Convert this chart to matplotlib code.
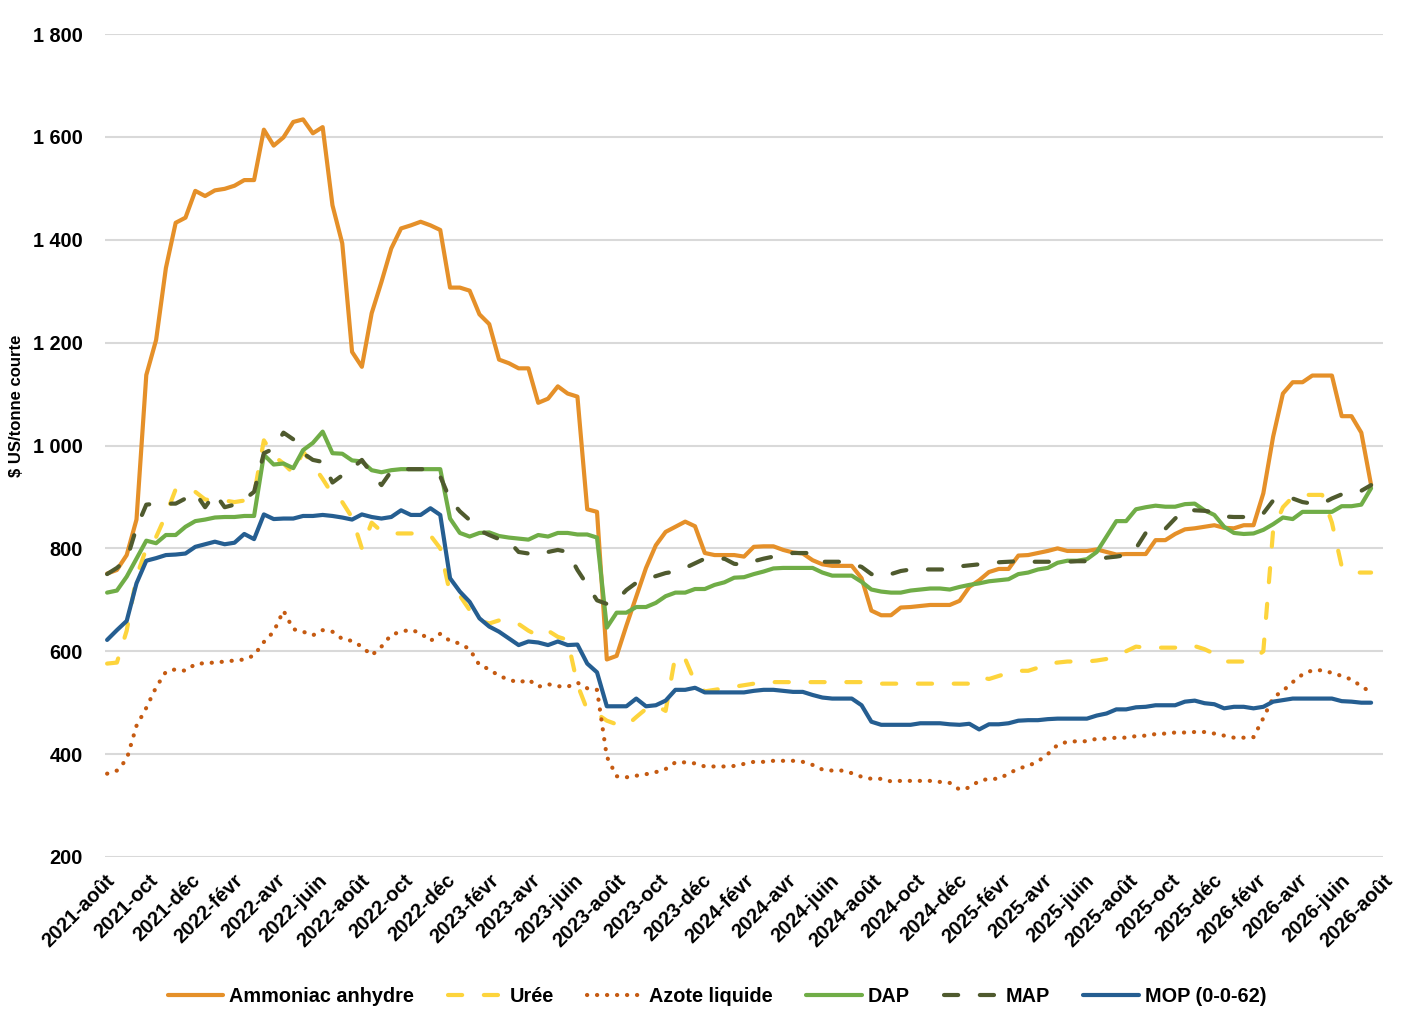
import matplotlib
matplotlib.use("Agg")
import matplotlib.pyplot as plt
import pandas as pd

# ---------------- data ----------------
dates = pd.date_range("2021-08-04", periods=130, freq="14D")

ammoniac = [751, 758, 787, 856, 1137, 1205, 1345, 1433, 1443, 1495, 1485, 1496, 1499, 1505, 1516, 1516,
            1614, 1583, 1599, 1629, 1634, 1607, 1619, 1467, 1393, 1182, 1153, 1257, 1318, 1383, 1422, 1428,
            1435, 1428, 1419, 1307, 1307, 1301, 1255, 1236, 1167, 1160, 1150, 1150, 1083, 1091, 1115, 1101,
            1095, 876, 871, 584, 591, 650, 706, 762, 806, 832, 842, 852, 843, 791, 787, 787,
            787, 784, 803, 804, 804, 797, 792, 790, 777, 769, 766, 766, 766, 742, 679, 670,
            670, 685, 686, 688, 690, 690, 690, 698, 725, 738, 754, 760, 760, 786, 787, 791,
            795, 800, 795, 795, 795, 798, 793, 788, 789, 789, 789, 816, 816, 828, 837, 839,
            842, 845, 840, 839, 845, 845, 907, 1017, 1101, 1123, 1123, 1136, 1136, 1136, 1057, 1057,
            1025, 923]

uree = [576, 578, 640, 745, 800, 822, 865, 915, 915, 910, 895, 893, 893, 890, 893, 905,
        1010, 980, 965, 946, 988, 963, 935, 905, 890, 860, 800, 850, 833, 829, 829, 829,
        829, 825, 800, 712, 708, 680, 660, 654, 660, 660, 653, 640, 630, 640, 628, 622,
        535, 486, 478, 465, 458, 455, 472, 488, 495, 484, 592, 585, 540, 522, 525, 528,
        531, 534, 537, 540, 540, 540, 540, 540, 540, 540, 540, 540, 540, 540, 537, 537,
        537, 537, 537, 537, 537, 537, 537, 537, 537, 550, 546, 552, 558, 562, 562, 568,
        576, 578, 580, 580, 580, 582, 585, 590, 600, 609, 607, 607, 607, 607, 612, 610,
        604, 595, 580, 580, 580, 585, 600, 835, 880, 900, 904, 904, 904, 850, 765, 753,
        753, 753]

azote = [362, 368, 390, 455, 490, 530, 560, 565, 562, 575, 577, 578, 580, 582, 584, 592,
         618, 638, 679, 643, 638, 631, 641, 638, 624, 620, 609, 592, 609, 632, 638, 642,
         635, 620, 634, 620, 615, 604, 573, 565, 552, 545, 539, 545, 531, 536, 532, 531,
         539, 528, 525, 395, 357, 355, 358, 361, 365, 371, 384, 384, 382, 376, 376, 376,
         377, 381, 385, 385, 387, 387, 387, 385, 379, 370, 368, 368, 363, 356, 352, 352,
         347, 348, 348, 348, 348, 346, 344, 331, 335, 348, 352, 352, 362, 372, 377, 386,
         400, 418, 424, 425, 425, 430, 430, 432, 432, 435, 436, 439, 440, 442, 442, 443,
         443, 440, 436, 432, 432, 433, 470, 510, 523, 540, 555, 563, 563, 558, 552, 545,
         532, 520]

dap = [714, 718, 745, 780, 815, 810, 826, 826, 842, 853, 856, 860, 861, 861, 863, 863,
       982, 963, 965, 956, 991, 1005, 1027, 985, 984, 971, 969, 952, 948, 952, 954, 954,
       954, 954, 954, 858, 830, 823, 830, 831, 824, 821, 819, 817, 826, 823, 830, 830,
       827, 827, 821, 646, 675, 675, 686, 686, 694, 707, 714, 714, 721, 721, 729, 734,
       743, 744, 750, 755, 761, 762, 762, 762, 762, 753, 747, 747, 747, 735, 720, 716,
       714, 714, 718, 720, 722, 722, 720, 725, 729, 732, 736, 738, 740, 750, 753, 759,
       762, 772, 776, 776, 779, 793, 823, 853, 853, 876, 880, 883, 881, 881, 886, 887,
       874, 865, 842, 830, 828, 829, 836, 847, 860, 857, 871, 871, 871, 871, 882, 882,
       885, 917]

map_ = [750, 762, 778, 840, 885, 887, 887, 887, 897, 908, 880, 907, 880, 885, 895, 910,
        985, 994, 1025, 1012, 985, 972, 968, 928, 942, 955, 972, 945, 923, 950, 954, 954,
        954, 954, 940, 895, 872, 855, 835, 826, 818, 814, 793, 790, 787, 793, 797, 793,
        758, 729, 699, 692, 699, 719, 733, 740, 746, 752, 755, 762, 771, 780, 778, 780,
        770, 768, 775, 780, 784, 787, 791, 791, 791, 774, 774, 774, 770, 764, 750, 745,
        750, 756, 759, 759, 759, 759, 759, 765, 767, 769, 770, 773, 774, 775, 774, 774,
        774, 774, 774, 775, 775, 777, 782, 784, 787, 800, 830, 838, 838, 858, 875, 874,
        873, 870, 862, 861, 861, 861, 868, 893, 895, 897, 890, 887, 887, 897, 905, 905,
        912, 923]

mop = [622, 641, 659, 732, 776, 781, 787, 788, 790, 803, 808, 813, 808, 811, 828, 818,
       866, 857, 858, 858, 863, 863, 865, 863, 860, 856, 866, 861, 858, 861, 874, 865,
       865, 878, 865, 742, 716, 696, 664, 648, 638, 625, 612, 619, 617, 612, 619, 612,
       613, 576, 559, 493, 493, 493, 508, 493, 495, 504, 525, 525, 529, 520, 520, 520,
       520, 520, 523, 525, 525, 523, 521, 521, 515, 510, 508, 508, 508, 495, 463, 457,
       457, 457, 457, 460, 460, 460, 458, 457, 459, 448, 458, 458, 460, 465, 466, 466,
       468, 469, 469, 469, 469, 475, 479, 487, 487, 491, 492, 495, 495, 495, 502, 504,
       499, 497, 489, 492, 492, 489, 492, 502, 505, 508, 508, 508, 508, 508, 503, 502,
       500, 500]

series_names = ["Ammoniac anhydre", "Urée", "Azote liquide", "DAP", "MAP", "MOP (0-0-62)"]

tick_dates = pd.date_range("2021-08-01", "2026-08-01", freq="2MS")
tick_labels = ["2021-août", "2021-oct", "2021-déc",
               "2022-févr", "2022-avr", "2022-juin", "2022-août", "2022-oct", "2022-déc",
               "2023-févr", "2023-avr", "2023-juin", "2023-août", "2023-oct", "2023-déc",
               "2024-févr", "2024-avr", "2024-juin", "2024-août", "2024-oct", "2024-déc",
               "2025-févr", "2025-avr", "2025-juin", "2025-août", "2025-oct", "2025-déc",
               "2026-févr", "2026-avr", "2026-juin", "2026-août"]

y_ticks = [200, 400, 600, 800, 1000, 1200, 1400, 1600, 1800]
y_tick_labels = ["200", "400", "600", "800", "1 000", "1 200", "1 400", "1 600", "1 800"]

# ---------------- style ----------------
plt.rcParams["font.family"] = ["Liberation Sans", "DejaVu Sans"]
plt.rcParams["font.weight"] = "bold"

fig = plt.figure(figsize=(14.21, 10.29), dpi=100)
ax = fig.add_axes([105 / 1421, 1 - 857 / 1029, (1383 - 105) / 1421, (857 - 34) / 1029])

lw = 3.0
styles = [
    dict(color="#E59029", linestyle="-"),
    dict(color="#FDD43C", linestyle=(0, (3.4, 5.2))),
    dict(color="#C55A11", linestyle=(0, (0.05, 2.35))),
    dict(color="#70AD47", linestyle="-"),
    dict(color="#4F5A2E", linestyle=(0, (3.4, 5.2))),
    dict(color="#255E91", linestyle="-"),
]
all_values = [ammoniac, uree, azote, dap, map_, mop]

for name, vals, st in zip(series_names, all_values, styles):
    ax.plot(dates, vals, label=name, lw=lw, solid_capstyle="round", solid_joinstyle="round",
            dash_capstyle="round", dash_joinstyle="round", **st)

ax.set_xlim(pd.Timestamp("2021-08-01"), pd.Timestamp("2026-08-01"))
ax.set_ylim(200, 1800)
ax.set_yticks(y_ticks)
ax.set_yticklabels(y_tick_labels)
ax.set_xticks(tick_dates)
ax.set_xticklabels(tick_labels, rotation=45, ha="right", rotation_mode="anchor")

ax.grid(axis="y", color="#D9D9D9", lw=1.5)
ax.set_axisbelow(True)
for s in ax.spines.values():
    s.set_visible(False)
ax.tick_params(axis="y", length=0, labelsize=14.3, pad=16)
ax.tick_params(axis="x", length=0, labelsize=14.5, pad=10)

fig.text(17 / 1421, 1 - 406 / 1029, "$ US/tonne courte", rotation=90, ha="center", va="center",
         fontsize=12, fontweight="bold")

leg = fig.legend(loc="center", bbox_to_anchor=(717 / 1421, 1 - 996 / 1029), ncol=6, frameon=False,
                 fontsize=14.3, handlelength=2.8, handletextpad=0.3, columnspacing=1.7)

fig.savefig("out.png", dpi=100)
